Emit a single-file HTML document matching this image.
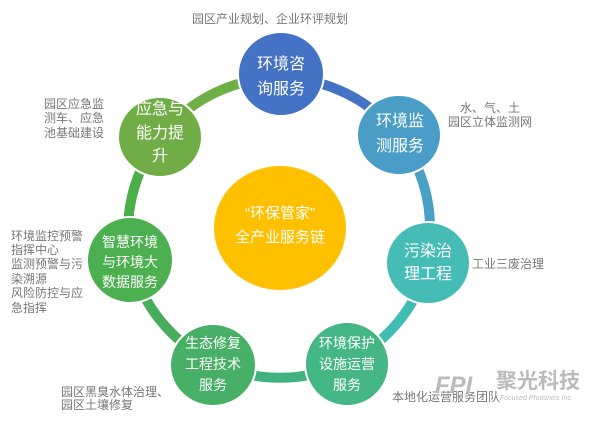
<!DOCTYPE html>
<html><head><meta charset="utf-8"><style>
body{margin:0;background:#fff;}
svg text{font-family:"Liberation Sans","Noto Sans CJK SC",sans-serif;}
</style></head><body>
<svg width="600" height="419" viewBox="0 0 600 419" xmlns="http://www.w3.org/2000/svg">
<g fill="none" stroke-width="10">
<path d="M280 78 A150 150 0 0 1 400 138" stroke="#4472c4"/>
<path d="M400 138 A150 150 0 0 1 430 228" stroke="#4a9fc4"/>
<path d="M430 228 A150 150 0 0 1 428 263" stroke="#43a9c0"/>
<path d="M428 263 A150 150 0 0 1 347 362" stroke="#3fbdb2"/>
<path d="M347 362 A150 150 0 0 1 213 362" stroke="#44b27e"/>
<path d="M213 362 A150 150 0 0 1 131 260" stroke="#47ad5a"/>
<path d="M131 260 A150 150 0 0 1 160 138" stroke="#4cae48"/>
<path d="M160 138 A150 150 0 0 1 280 78" stroke="#6eaf46"/>
</g>
<g stroke="#fff" stroke-width="2">
<ellipse cx="281" cy="74" rx="43" ry="42" fill="#4472c4"/>
<ellipse cx="399" cy="135" rx="42" ry="40" fill="#4a9dc6"/>
<ellipse cx="160" cy="137" rx="42" ry="40" fill="#70ad47"/>
<ellipse cx="428" cy="263" rx="42" ry="41" fill="#45bcb6"/>
<ellipse cx="130" cy="260" rx="43" ry="43" fill="#4caf50"/>
<ellipse cx="213" cy="365" rx="43" ry="41" fill="#47b066"/>
<ellipse cx="347" cy="364" rx="42" ry="42" fill="#44b784"/>
</g>
<ellipse cx="280" cy="228" rx="66" ry="62" fill="#ffc000"/>
<g fill="#fff" font-size="16" text-anchor="middle">
<text x="281" y="69">环境咨</text><text x="281" y="94">询服务</text>
<text x="400" y="126">环境监</text><text x="400" y="151">测服务</text>
<text x="160" y="114">应急与</text><text x="160" y="138">能力提</text><text x="160" y="161">升</text>
<text x="428" y="256">污染治</text><text x="428" y="279">理工程</text>
<text x="130" y="247" font-size="14">智慧环境</text><text x="130" y="267" font-size="14">与环境大</text><text x="130" y="287" font-size="14">数据服务</text>
<text x="213" y="348" font-size="14">生态修复</text><text x="213" y="369" font-size="14">工程技术</text><text x="213" y="390" font-size="14">服务</text>
<text x="347" y="348" font-size="14">环境保护</text><text x="347" y="369" font-size="14">设施运营</text><text x="347" y="390" font-size="14">服务</text>
<text x="280" y="218" font-size="15">“环保管家”</text><text x="280" y="242" font-size="15">全产业服务链</text>
</g>
<g fill="#777" font-size="12">
<text x="192" y="23">园区产业规划、企业环评规划</text>
<text x="44" y="108">园区应急监</text><text x="44" y="122">测车、应急</text><text x="44" y="137">池基础建设</text>
<text x="460" y="112">水、气、土</text><text x="448" y="126">园区立体监测网</text>
<text x="11" y="240">环境监控预警</text><text x="11" y="254">指挥中心</text><text x="11" y="268">监测预警与污</text><text x="11" y="283">染溯源</text><text x="11" y="297">风险防控与应</text><text x="11" y="312">急指挥</text>
<text x="472" y="268">工业三废治理</text>
<text x="61" y="396">园区黑臭水体治理、</text><text x="61" y="409">园区土壤修复</text>
<text x="392" y="401">本地化运营服务团队</text>
</g>
<g fill="#bbb">
<text x="435" y="393" font-size="24" font-style="italic" font-weight="bold">FPI</text>
<text x="496" y="388" font-size="21" font-weight="bold">聚光科技</text>
<text x="500" y="400" font-size="7" font-style="italic">Focused Photonics Inc.</text>
</g>
</svg>
</body></html>
